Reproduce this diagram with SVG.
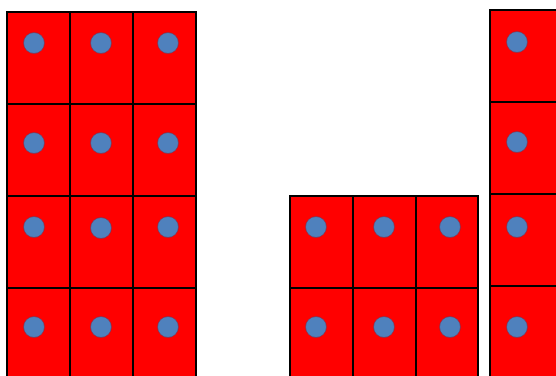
<svg xmlns="http://www.w3.org/2000/svg" width="556" height="376" viewBox="0 0 556 376">
<style>
.cell{fill:#ff0000;stroke:#000;stroke-width:2}
.dot{fill:#4f81bd;stroke:#7a2a45;stroke-width:1;stroke-opacity:0.55}
</style>
<rect width="556" height="376" fill="#fff"/>
<g id="block-left">
<rect class="cell" x="7" y="12" width="63" height="92"/>
<rect class="cell" x="70" y="12" width="63" height="92"/>
<rect class="cell" x="133" y="12" width="63" height="92"/>
<rect class="cell" x="7" y="104" width="63" height="92"/>
<rect class="cell" x="70" y="104" width="63" height="92"/>
<rect class="cell" x="133" y="104" width="63" height="92"/>
<rect class="cell" x="7" y="196" width="63" height="92"/>
<rect class="cell" x="70" y="196" width="63" height="92"/>
<rect class="cell" x="133" y="196" width="63" height="92"/>
<rect class="cell" x="7" y="288" width="63" height="92"/>
<rect class="cell" x="70" y="288" width="63" height="92"/>
<rect class="cell" x="133" y="288" width="63" height="92"/>
<circle class="dot" cx="34" cy="43" r="10.5"/>
<circle class="dot" cx="101" cy="43" r="10.5"/>
<circle class="dot" cx="168" cy="43" r="10.5"/>
<circle class="dot" cx="34" cy="143" r="10.5"/>
<circle class="dot" cx="101" cy="143" r="10.5"/>
<circle class="dot" cx="168" cy="143" r="10.5"/>
<circle class="dot" cx="34" cy="227" r="10.5"/>
<circle class="dot" cx="101" cy="228" r="10.5"/>
<circle class="dot" cx="168" cy="227" r="10.5"/>
<circle class="dot" cx="34" cy="327" r="10.5"/>
<circle class="dot" cx="101" cy="327" r="10.5"/>
<circle class="dot" cx="168" cy="327" r="10.5"/>
</g>
<g id="block-middle">
<rect class="cell" x="290" y="196" width="63" height="92"/>
<rect class="cell" x="353" y="196" width="63" height="92"/>
<rect class="cell" x="416" y="196" width="62" height="92"/>
<rect class="cell" x="290" y="288" width="63" height="92"/>
<rect class="cell" x="353" y="288" width="63" height="92"/>
<rect class="cell" x="416" y="288" width="62" height="92"/>
<circle class="dot" cx="316" cy="227" r="10.5"/>
<circle class="dot" cx="384" cy="227" r="10.5"/>
<circle class="dot" cx="450" cy="227" r="10.5"/>
<circle class="dot" cx="316" cy="327" r="10.5"/>
<circle class="dot" cx="384" cy="327" r="10.5"/>
<circle class="dot" cx="450" cy="327" r="10.5"/>
</g>
<g id="block-right">
<rect class="cell" x="490" y="10" width="70" height="92"/>
<rect class="cell" x="490" y="102" width="70" height="92"/>
<rect class="cell" x="490" y="194" width="70" height="92"/>
<rect class="cell" x="490" y="286" width="70" height="92"/>
<circle class="dot" cx="517" cy="42" r="10.5"/>
<circle class="dot" cx="517" cy="142" r="10.5"/>
<circle class="dot" cx="517" cy="227" r="10.5"/>
<circle class="dot" cx="517" cy="327" r="10.5"/>
</g>
<g id="connectors"/>
</svg>
